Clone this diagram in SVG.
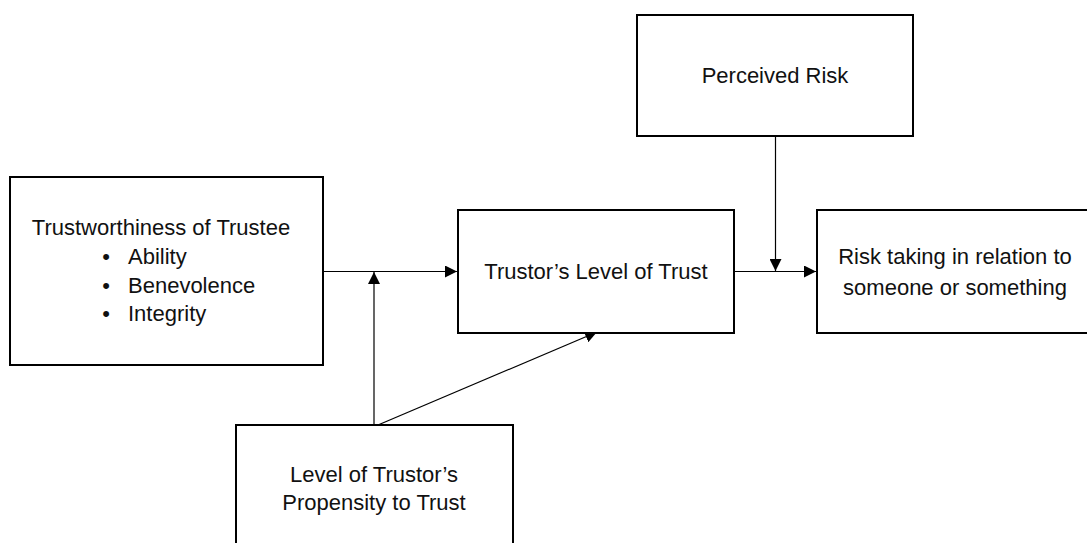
<svg xmlns="http://www.w3.org/2000/svg" width="1087" height="543" viewBox="0 0 1087 543">
  <style>
    .box { fill: #ffffff; stroke: #000000; stroke-width: 2; }
    .lbl { font-family: "Liberation Sans", Arial, sans-serif; font-size: 22px; fill: #111111; }
    .mid { text-anchor: middle; }
    .edge { fill: none; stroke: #000000; stroke-width: 1.2; }
  </style>
  <defs>
    <marker id="arrow" markerUnits="userSpaceOnUse" markerWidth="12" markerHeight="12" refX="12" refY="6" orient="auto">
      <path d="M0,0 L12,6 L0,12 Z" fill="#000000"/>
    </marker>
  </defs>

  <rect width="1087" height="543" fill="#ffffff"/>

  <!-- connectors -->
  <g id="connectors">
    <line class="edge" x1="323" y1="271.5" x2="457" y2="271.5" marker-end="url(#arrow)"/>
    <line class="edge" x1="374" y1="425" x2="374" y2="272" marker-end="url(#arrow)"/>
    <line class="edge" x1="378" y1="425" x2="597" y2="332" marker-end="url(#arrow)"/>
    <line class="edge" x1="734" y1="271.5" x2="816" y2="271.5" marker-end="url(#arrow)"/>
    <line class="edge" x1="775.5" y1="136" x2="775.5" y2="271" marker-end="url(#arrow)"/>
  </g>

  <!-- nodes -->
  <g id="trustworthiness">
    <rect class="box" x="10" y="177" width="313" height="188"/>
    <text class="lbl mid" x="161" y="235">Trustworthiness of Trustee</text>
    <text class="lbl mid" x="106" y="264">•</text>
    <text class="lbl" x="128" y="264">Ability</text>
    <text class="lbl mid" x="106" y="292.5">•</text>
    <text class="lbl" x="128" y="292.5">Benevolence</text>
    <text class="lbl mid" x="106" y="321">•</text>
    <text class="lbl" x="128" y="321">Integrity</text>
  </g>

  <g id="level-of-trust">
    <rect class="box" x="458" y="210" width="276" height="123"/>
    <text class="lbl mid" x="596" y="279">Trustor’s Level of Trust</text>
  </g>

  <g id="risk-taking">
    <rect class="box" x="817" y="210" width="290" height="123"/>
    <text class="lbl mid" x="955" y="264">Risk taking in relation to</text>
    <text class="lbl mid" x="955" y="295">someone or something</text>
  </g>

  <g id="perceived-risk">
    <rect class="box" x="637" y="15" width="276" height="121"/>
    <text class="lbl mid" x="775" y="83">Perceived Risk</text>
  </g>

  <g id="propensity">
    <rect class="box" x="236" y="425" width="277" height="140"/>
    <text class="lbl mid" x="374" y="482">Level of Trustor’s</text>
    <text class="lbl mid" x="374" y="510">Propensity to Trust</text>
  </g>
</svg>
